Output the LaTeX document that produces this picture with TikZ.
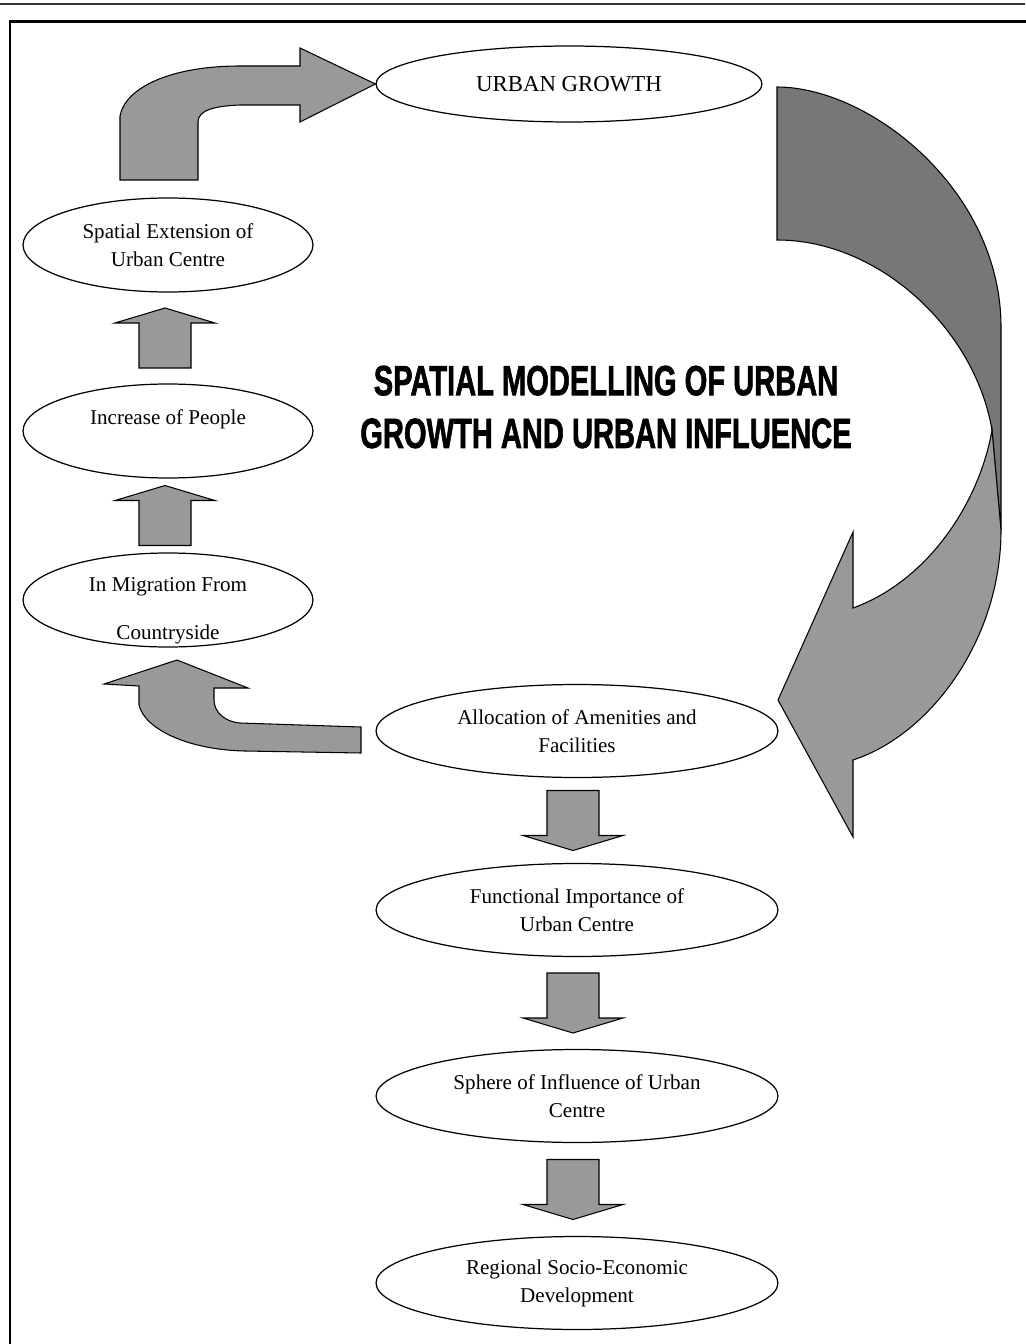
\documentclass[tikz,border=0pt]{standalone}
\usepackage{fontspec}
\setmainfont{Liberation Serif}
\newfontfamily\headfont[BoldFeatures={FakeBold=1.8}]{Liberation Sans}
\usetikzlibrary{shapes.geometric, calc}
\definecolor{arrowgray}{HTML}{999999}
\definecolor{shadegray}{HTML}{777777}
\tikzset{bubble/.style={draw, ellipse, line width=0.7pt, fill=white, inner sep=0pt, align=center, font=\fontsize{12}{16}\selectfont}}
\tikzset{small/.style={minimum width=5.8cm, minimum height=1.88cm}}
\tikzset{wide/.style={minimum width=8.04cm, minimum height=1.86cm}}
\tikzset{blockarrow/.style={draw, line width=0.6pt, fill=arrowgray}}
\tikzset{pics/blockdown/.style={code={\draw[blockarrow] (-26,-30) -- (26,-30) -- (26,15) -- (50,15) -- (0,30) -- (-50,15) -- (-26,15) -- cycle;}}}

\begin{document}
\begin{tikzpicture}[x=0.02cm, y=-0.02cm]
    \useasboundingbox (0,0) rectangle (1025,1344);
    \draw[line width=1pt, black!80] (0,4) -- (1025,4);
    \draw[line width=1.7pt] (10,1360) -- (10,21.5) -- (1040,21.5);
    % the cycle
    \node[bubble, minimum width=7.72cm, minimum height=1.52cm, font=\fontsize{13}{16}\selectfont] (growth) at (569,84) {URBAN GROWTH};
    \node[bubble, small] (spatial) at (168,245) {Spatial Extension of\\Urban Centre};
    \node[bubble, small] (people) at (168,431) {Increase of People\\\mbox{}};
    \node[bubble, small] (migration) at (168,600) {};
    \node[align=center, font=\fontsize{12}{16}\selectfont] (migrationtext) at (168,611) {In Migration From\\[11pt]Countryside};
    \node[bubble, wide] (amenities) at (577,731) {Allocation of Amenities and\\Facilities};
    \node[bubble, wide] (function) at (577,910) {Functional Importance of\\Urban Centre};
    \node[bubble, wide] (sphere) at (577,1096) {Sphere of Influence of Urban\\Centre};
    \node[bubble, wide] (regional) at (577,1283) {Regional Socio-Economic\\Development};
    \node (heading) at (606,411) {\scalebox{0.69}[1]{\headfont\bfseries\fontsize{24}{30}\selectfont
        \begin{tabular}{@{}c@{}}SPATIAL MODELLING OF URBAN\\GROWTH AND URBAN INFLUENCE\end{tabular}}};
    % straight arrows
    \foreach \from/\to in {people/spatial, migration/people} {
        \pic[yscale=-1, xshift=-3*0.02cm] at ($(\to.south)!0.5!(\from.north)$) {blockdown};
    }
    \foreach \from/\to in {amenities/function, function/sphere, sphere/regional} {
        \pic[xshift=-4*0.02cm] at ($(\from.south)!0.5!(\to.north)$) {blockdown};
    }
    % bent arrows
    \draw[blockarrow] (120,180) -- (120,116) .. controls (125,88) and (170,66) .. (240,66) -- (300,66)
        -- (300,48) -- (growth.west) -- (300,122) -- (300,105) -- (240,105)
        .. controls (215,106) and (198,110) .. (198,122) -- (198,180) -- cycle;
    \draw[blockarrow] (361,727) -- (361,753) -- (245,751) .. controls (190,750) and (145,730) .. (139,705)
        -- (139,686) -- (104,684) -- (177,660) -- (248,688) -- (214,688) -- (214,700)
        .. controls (214,712) and (225,722) .. (240,723) -- cycle;
    % big curved arrow
    \draw[line width=0.6pt, fill=shadegray] (777,87) .. controls (870,87) and (1001,190) .. (1001,327)
        -- (1001,530) -- (992,430) .. controls (975,330) and (880,240) .. (777,240) -- cycle;
    \draw[blockarrow] (1001,530) .. controls (1001,640) and (930,735) .. (853,760) -- (853,837)
        -- (778,700) -- (853,532) -- (853,608) .. controls (930,580) and (980,500) .. (992,430)
        -- cycle;
\end{tikzpicture}
\end{document}
